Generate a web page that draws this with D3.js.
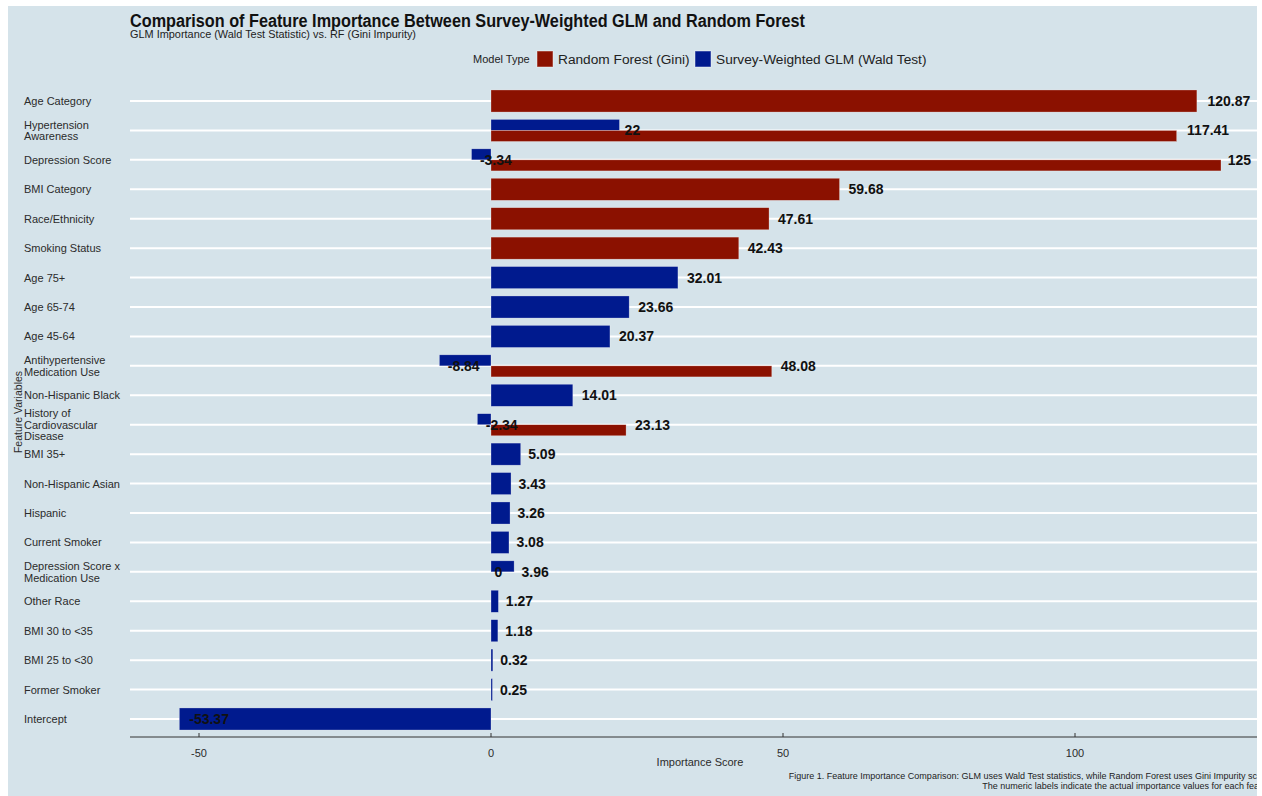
<!DOCTYPE html>
<html lang="en">
<head>
    <meta charset="UTF-8">
    <title>Feature Importance</title>
    <script src="https://cdn.jsdelivr.net/npm/d3@7"></script>
    <style>
        body { margin: 0; background: #ffffff; }
        text { font-family: "Liberation Sans", Arial, sans-serif; }
    </style>
</head>
<body>
<div id="main"></div>
<script>
    // feature order, top to bottom
    const features = [
        "Age Category", "Hypertension Awareness", "Depression Score", "BMI Category",
        "Race/Ethnicity", "Smoking Status", "Age 75+", "Age 65-74", "Age 45-64",
        "Antihypertensive Medication Use", "Non-Hispanic Black", "History of Cardiovascular Disease",
        "BMI 35+", "Non-Hispanic Asian", "Hispanic", "Current Smoker",
        "Depression Score x Medication Use", "Other Race", "BMI 30 to <35", "BMI 25 to <30",
        "Former Smoker", "Intercept"
    ];

    // Random Forest (Gini) importance, null = not in RF
    const rfValues = [
        120.87, 117.41, 125, 59.68, 47.61, 42.43, null, null, null,
        48.08, null, 23.13, null, null, null, null,
        0, null, null, null, null, null
    ];

    // Survey-weighted GLM (Wald test) importance, null = not in GLM
    const glmValues = [
        null, 22, -3.34, null, null, null, 32.01, 23.66, 20.37,
        -8.84, 14.01, -2.34, 5.09, 3.43, 3.26, 3.08,
        3.96, 1.27, 1.18, 0.32, 0.25, -53.37
    ];

    const xTicks = [-50, 0, 50, 100];
    const models = ["Random Forest (Gini)", "Survey-Weighted GLM (Wald Test)"];
    const colors = ["#8b1100", "#001a8e"];

    const W = 1262, H = 796;
    const bg = "#d5e3ea";

    const svg = d3.select('#main').append('svg')
        .attr('width', W).attr('height', H);

    svg.append('rect').attr('x', 8).attr('y', 6).attr('width', 1249).attr('height', 790)
        .attr('fill', bg);

    const x = d3.scaleLinear().domain([-50, 100]).range([199, 1075]);
    const y = d3.scaleBand().domain(features).range([86.3, 733.7]);
    const barH = y.bandwidth() * 0.75;

    // horizontal gridlines
    svg.append('g').selectAll('line')
        .data(features).enter().append('line')
        .attr('x1', 130).attr('x2', 1257)
        .attr('y1', d => y(d) + y.bandwidth() / 2)
        .attr('y2', d => y(d) + y.bandwidth() / 2)
        .attr('stroke', '#ffffff').attr('stroke-width', 2);

    // build bar records
    const bars = [];
    features.forEach((f, i) => {
        const both = rfValues[i] !== null && glmValues[i] !== null;
        if (glmValues[i] !== null) bars.push({f, v: glmValues[i], m: 1, slot: both ? 0 : -1});
        if (rfValues[i] !== null) bars.push({f, v: rfValues[i], m: 0, slot: both ? 1 : -1});
    });

    const barY = d => {
        const c = y(d.f) + y.bandwidth() / 2;
        if (d.slot === -1) return c - barH / 2;
        return d.slot === 0 ? c - barH / 2 : c;
    };
    const barHeight = d => d.slot === -1 ? barH : barH / 2;

    svg.append('g').selectAll('rect')
        .data(bars).enter().append('rect')
        .attr('x', d => Math.min(x(0), x(d.v)))
        .attr('width', d => Math.abs(x(d.v) - x(0)))
        .attr('y', barY)
        .attr('height', barHeight)
        .attr('fill', d => colors[d.m])
        .attr('stroke', 'rgba(255,255,255,0.45)')
        .attr('stroke-width', 0.6);

    // value labels (hjust ~ -0.2)
    const labels = svg.append('g').selectAll('text')
        .data(bars).enter().append('text')
        .text(d => d.v)
        .attr('y', d => y(d.f) + y.bandwidth() / 2)
        .attr('dy', '0.36em')
        .style('font-size', '14px')
        .style('font-weight', 'bold')
        .attr('fill', '#111');
    labels.each(function (d) {
        const w = this.getComputedTextLength();
        d3.select(this).attr('x', x(d.v) + 0.2 * w + 2);
    });

    // y axis labels, wrapped at 18 chars
    function wrap(s, n) {
        const words = s.split(' ');
        const lines = [];
        let cur = '';
        words.forEach(w => {
            if (cur === '') cur = w;
            else if ((cur + ' ' + w).length <= n) cur += ' ' + w;
            else { lines.push(cur); cur = w; }
        });
        lines.push(cur);
        return lines;
    }
    const ylab = svg.append('g').selectAll('text')
        .data(features).enter().append('text')
        .attr('x', 24)
        .attr('fill', '#2b2b2b')
        .style('font-size', '11px');
    ylab.each(function (d) {
        const lines = wrap(d, 18);
        const c = y(d) + y.bandwidth() / 2;
        const lh = 11.5;
        const t = d3.select(this);
        lines.forEach((l, k) => {
            t.append('tspan').attr('x', 24)
                .attr('y', c + (k - (lines.length - 1) / 2) * lh)
                .attr('dy', '0.36em')
                .text(l);
        });
    });

    svg.append('text')
        .attr('transform', 'translate(22,412) rotate(-90)')
        .attr('text-anchor', 'middle')
        .attr('fill', '#2b2b2b')
        .style('font-size', '10.5px')
        .text('Feature Variables');

    // x axis
    const xAxis = svg.append('g').attr('transform', 'translate(0,737)');
    xAxis.append('line').attr('x1', 130).attr('x2', 1257)
        .attr('stroke', '#333').attr('stroke-width', 1);
    xAxis.selectAll('.tk').data(xTicks).enter().append('line')
        .attr('x1', d => x(d)).attr('x2', d => x(d))
        .attr('y1', -4).attr('y2', 0)
        .attr('stroke', '#333');
    xAxis.selectAll('.tl').data(xTicks).enter().append('text')
        .attr('x', d => x(d)).attr('y', 20)
        .attr('text-anchor', 'middle')
        .attr('fill', '#2b2b2b')
        .style('font-size', '11px')
        .text(d => d);

    svg.append('text').attr('x', 700).attr('y', 766)
        .attr('text-anchor', 'middle').attr('fill', '#2b2b2b')
        .style('font-size', '11px')
        .text('Importance Score');

    // title and subtitle
    svg.append('text').attr('x', 130).attr('y', 27)
        .style('font-size', '18px').style('font-weight', 'bold')
        .attr('fill', '#111')
        .attr('textLength', 675).attr('lengthAdjust', 'spacingAndGlyphs')
        .text('Comparison of Feature Importance Between Survey-Weighted GLM and Random Forest');
    svg.append('text').attr('x', 130).attr('y', 38)
        .style('font-size', '10.5px').attr('fill', '#222')
        .attr('textLength', 286).attr('lengthAdjust', 'spacingAndGlyphs')
        .text('GLM Importance (Wald Test Statistic) vs. RF (Gini Impurity)');

    // legend
    const lg = svg.append('g');
    lg.append('text').attr('x', 473).attr('y', 63)
        .style('font-size', '11px').attr('fill', '#222').text('Model Type');
    const legX = [537, 695];
    models.forEach((m, i) => {
        lg.append('rect').attr('x', legX[i]).attr('y', 51).attr('width', 16).attr('height', 16)
            .attr('fill', colors[i]).attr('stroke', 'rgba(255,255,255,0.45)');
        lg.append('text').attr('x', legX[i] + 21).attr('y', 64)
            .style('font-size', '13.7px').attr('fill', '#222').text(m);
    });

    // caption, right aligned (runs off the panel edge as in the original)
    const cap = svg.append('g');
    cap.append('text').attr('x', 1277).attr('y', 779)
        .attr('text-anchor', 'end').style('font-size', '9px').attr('fill', '#222')
        .text('Figure 1. Feature Importance Comparison: GLM uses Wald Test statistics, while Random Forest uses Gini Impurity scores.');
    cap.append('text').attr('x', 1277).attr('y', 789)
        .attr('text-anchor', 'end').style('font-size', '9px').attr('fill', '#222')
        .text('The numeric labels indicate the actual importance values for each feature.');

    // white strip at the right edge
    svg.append('rect').attr('x', 1257).attr('y', 0).attr('width', 5).attr('height', H)
        .attr('fill', '#ffffff');
</script>
</body>
</html>
